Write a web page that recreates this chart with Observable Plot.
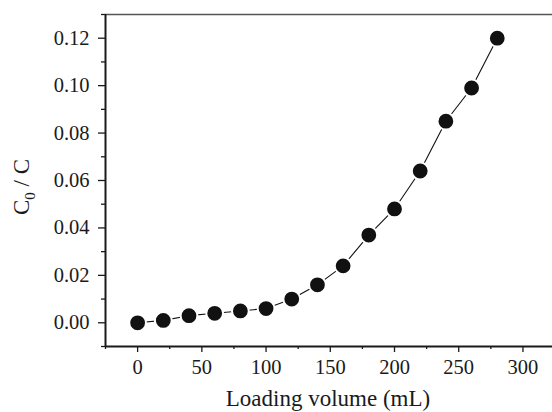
<!DOCTYPE html>
<html>
<head>
<meta charset="utf-8">
<script src="https://cdn.jsdelivr.net/npm/d3@7"></script>
<script src="https://cdn.jsdelivr.net/npm/@observablehq/plot@0.6"></script>
<style>
  html, body { margin: 0; padding: 0; background: #fff; overflow: hidden; }
  #chart svg { display: block; }
</style>
</head>
<body>
<div id="chart"></div>
<script>
const volume = [0, 20, 40, 60, 80, 100, 120, 140, 160, 180, 200, 220, 240, 260, 280];
const ratio = [0.000, 0.001, 0.003, 0.004, 0.005, 0.006, 0.010, 0.016, 0.024, 0.037, 0.048, 0.064, 0.085, 0.099, 0.120];
const xTicks = [0, 50, 100, 150, 200, 250, 300];
const xMinor = [-25, 25, 75, 125, 175, 225, 275, 325];
const yTicks = [0.00, 0.02, 0.04, 0.06, 0.08, 0.10, 0.12];
const yMinor = [-0.01, 0.01, 0.03, 0.05, 0.07, 0.09, 0.11, 0.13];
const xLabel = "Loading volume (mL)";

const data = volume.map((v, i) => ({v, r: ratio[i]}));
const font = "Liberation Serif, Times New Roman, serif";
const ink = "#1a1a1a";

const plot = Plot.plot({
  width: 552,
  height: 412,
  marginLeft: 105,
  marginRight: 0,
  marginTop: 14,
  marginBottom: 66,
  style: {fontFamily: font, fontSize: "20.5px", color: ink, background: "#fff"},
  x: {domain: [-25, 323]},
  y: {domain: [-0.01, 0.13]},
  marks: [
    Plot.ruleY([0.13], {stroke: "#555", strokeWidth: 1.5}),
    Plot.axisX(xMinor, {tickSize: 3, text: null, stroke: ink, strokeWidth: 1.3, label: null}),
    Plot.axisX(xTicks, {tickSize: 6, tickPadding: 7, fontSize: 20.5, tickFormat: d => String(d), stroke: ink, strokeWidth: 1.3, fill: ink, label: null}),
    Plot.axisY(yMinor, {tickSize: 4, text: null, stroke: ink, strokeWidth: 1.3, label: null}),
    Plot.axisY(yTicks, {tickSize: 7, tickPadding: 9, fontSize: 20.5, tickFormat: d3.format(".2f"), stroke: ink, strokeWidth: 1.3, fill: ink, label: null}),
    Plot.ruleX([-25], {stroke: ink, strokeWidth: 2}),
    Plot.ruleY([-0.01], {stroke: ink, strokeWidth: 2}),
    Plot.line(data, {x: "v", y: "r", stroke: "#111", strokeWidth: 1.1}),
    Plot.dot(data, {x: "v", y: "r", r: 8.4, fill: "#111", stroke: "#fff", strokeWidth: 2})
  ]
});

const svg = d3.select(plot);
svg.append("text")
  .attr("x", 328)
  .attr("y", 406)
  .attr("text-anchor", "middle")
  .attr("font-family", font)
  .attr("font-size", "23px")
  .attr("fill", ink)
  .text(xLabel);

const yl = svg.append("text")
  .attr("transform", "translate(29,187) rotate(-90)")
  .attr("text-anchor", "middle")
  .attr("font-family", font)
  .attr("font-size", "23px")
  .attr("fill", ink);
yl.append("tspan").text("C");
yl.append("tspan").attr("font-size", "15px").attr("dy", "6").text("0");
yl.append("tspan").attr("dy", "-6").text(" / C");

document.getElementById("chart").appendChild(plot);
</script>
</body>
</html>
